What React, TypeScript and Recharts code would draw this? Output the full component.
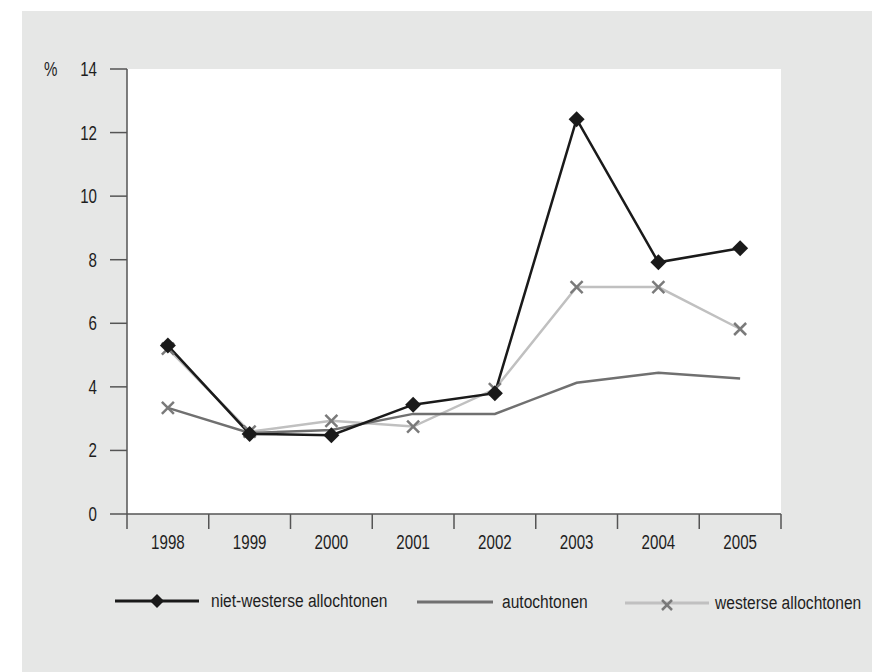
import React from 'react'
import { LineChart, Line, XAxis, YAxis, CartesianGrid } from 'recharts'

const years = ['1998', '1999', '2000', '2001', '2002', '2003', '2004', '2005']
const nietWesterse = [5.3, 2.52, 2.48, 3.44, 3.8, 12.42, 7.92, 8.36]
const autochtonen = [3.34, 2.55, 2.64, 3.15, 3.15, 4.13, 4.44, 4.26]
const westerse = [5.2, 2.59, 2.93, 2.75, 3.93, 7.14, 7.14, 5.82]
const yTicks = [0, 2, 4, 6, 8, 10, 12, 14]

const FONT = "'Liberation Sans', Arial, sans-serif"

const data = years.map((year, i) => ({
  year,
  niet: nietWesterse[i],
  auto: autochtonen[i],
  west: westerse[i],
}))

// the source uses a condensed face, so squeeze a regular one horizontally
const NarrowText = ({ x, y, anchor = 'start', size = 20, squeeze = 0.74, children }: any) => (
  <text
    transform={`translate(${x},${y}) scale(${squeeze},1)`}
    textAnchor={anchor}
    fill="#1e1e1e"
    fontSize={size}
    fontFamily={FONT}
  >
    {children}
  </text>
)

const Diamond = ({ cx, cy, size = 8 }: any) => {
  if (cx == null || cy == null) return null
  return (
    <path
      d={`M${cx},${cy - size} L${cx + size},${cy} L${cx},${cy + size} L${cx - size},${cy} Z`}
      fill="#1a1a1a"
    />
  )
}

const Cross = ({ cx, cy, size = 6 }: any) => {
  if (cx == null || cy == null) return null
  return (
    <g stroke="#7a7a7a" strokeWidth={2.5}>
      <line x1={cx - size} y1={cy - size} x2={cx + size} y2={cy + size} />
      <line x1={cx - size} y1={cy + size} x2={cx + size} y2={cy - size} />
    </g>
  )
}

// only the first autochtonen point carries a marker in the original
const AutoDot = (props: any) => (props.index === 0 ? <Cross {...props} /> : <g />)

const YearTick = (props: any) => {
  const { x, y, payload, index, width, visibleTicksCount } = props
  const half = width / visibleTicksCount / 2
  return (
    <g>
      <line x1={x - half} y1={y} x2={x - half} y2={y + 15} stroke="#555" strokeWidth={1.5} />
      {index === visibleTicksCount - 1 && (
        <line x1={x + half} y1={y} x2={x + half} y2={y + 15} stroke="#555" strokeWidth={1.5} />
      )}
      <NarrowText x={x} y={y + 35} anchor="middle" size={21} squeeze={0.72}>
        {payload.value}
      </NarrowText>
    </g>
  )
}

const ValueTick = ({ x, y, payload }: any) => (
  <NarrowText x={x} y={y + 7} anchor="end" size={21} squeeze={0.72}>
    {payload.value}
  </NarrowText>
)

const legendItems = [
  { name: 'niet-westerse allochtonen', color: '#1a1a1a', x1: 93, x2: 177, y: 590, marker: 'diamond', tx: 189 },
  { name: 'autochtonen', color: '#707070', x1: 395, x2: 471, y: 591, marker: 'none', tx: 480 },
  { name: 'westerse allochtonen', color: '#c0c0c0', x1: 603, x2: 687, y: 592, marker: 'cross', tx: 693 },
]

export default function App() {
  return (
    <div
      style={{
        position: 'fixed',
        left: 22,
        top: 11,
        width: 850,
        height: 661,
        background: '#e6e7e6',
        fontFamily: FONT,
      }}
    >
      <LineChart width={850} height={661} data={data} margin={{ top: 58, right: 91, left: 0, bottom: 108 }}>
        <CartesianGrid fill="#ffffff" stroke="none" horizontal={false} vertical={false} />
        <XAxis
          dataKey="year"
          scale="band"
          height={50}
          axisLine={{ stroke: '#555', strokeWidth: 1.5 }}
          tickLine={false}
          tickSize={0}
          tickMargin={0}
          tick={<YearTick />}
          interval={0}
        />
        <YAxis
          width={105}
          domain={[0, 14]}
          ticks={yTicks}
          interval={0}
          tickSize={17}
          tickMargin={13}
          axisLine={{ stroke: '#555', strokeWidth: 1.5 }}
          tickLine={{ stroke: '#555', strokeWidth: 1.5 }}
          tick={<ValueTick />}
          label={({ viewBox }: any) => (
            <NarrowText x={viewBox.x + 22} y={viewBox.y + 7} size={21} squeeze={0.72}>
              %
            </NarrowText>
          )}
        />
        <Line
          dataKey="west"
          name="westerse allochtonen"
          stroke="#c0c0c0"
          strokeWidth={2.5}
          dot={<Cross />}
          activeDot={false}
          isAnimationActive={false}
        />
        <Line
          dataKey="auto"
          name="autochtonen"
          stroke="#707070"
          strokeWidth={2.5}
          dot={<AutoDot />}
          activeDot={false}
          isAnimationActive={false}
        />
        <Line
          dataKey="niet"
          name="niet-westerse allochtonen"
          stroke="#1a1a1a"
          strokeWidth={2.5}
          dot={<Diamond />}
          activeDot={false}
          isAnimationActive={false}
        />
      </LineChart>
      <svg width={850} height={661} style={{ position: 'absolute', left: 0, top: 0, pointerEvents: 'none' }}>
        {legendItems.map((item) => (
          <g key={item.name}>
            <line x1={item.x1} y1={item.y} x2={item.x2} y2={item.y} stroke={item.color} strokeWidth={3} />
            {item.marker === 'diamond' && <Diamond cx={(item.x1 + item.x2) / 2} cy={item.y} size={7} />}
            {item.marker === 'cross' && <Cross cx={(item.x1 + item.x2) / 2} cy={item.y + 2} size={5} />}
            <NarrowText x={item.tx} y={item.y + 6} size={19} squeeze={0.82}>
              {item.name}
            </NarrowText>
          </g>
        ))}
      </svg>
    </div>
  )
}
